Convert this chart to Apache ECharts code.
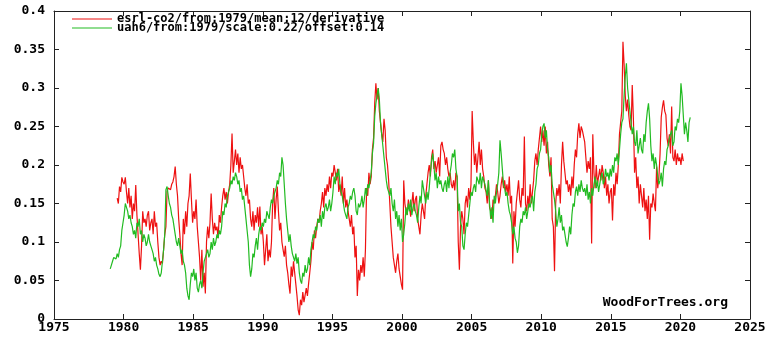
<!DOCTYPE html>
<html>
<head>
<meta charset="utf-8">
<script src="https://cdn.jsdelivr.net/npm/echarts@6/dist/echarts.min.js"></script>
<style>
  html, body { margin: 0; padding: 0; background: #fff; }
  #chart { width: 777px; height: 343px; }
</style>
</head>
<body>
<div id="chart"></div>
<script>
  // monthly values
  const co2Name = 'esrl-co2/from:1979/mean:12/derivative'
  const uahName = 'uah6/from:1979/scale:0.22/offset:0.14'

  const co2Start = 1979.54 // first month (Jul 1979)
  const co2Values = [
    .157, .150, .172, .165, .184, .178,
    .175, .184, .165, .150, .170, .145, .160, .130, .150, .140, .174, .135,
    .110, .085, .064, .095, .140, .125, .130, .120, .135, .140, .115, .125,
    .130, .110, .140, .120, .125, .100, .080, .070, .075, .072, .090, .110,
    .120, .166, .170, .172, .168, .175, .178, .185, .198, .175, .160, .130,
    .110, .085, .070, .130, .110, .140, .120, .150, .160, .189, .155, .125,
    .140, .130, .155, .120, .100, .080, .050, .090, .042, .060, .033, .100,
    .120, .105, .125, .163, .130, .110, .125, .115, .120, .105, .135, .125,
    .145, .160, .170, .155, .165, .150, .165, .175, .200, .241, .190, .205,
    .220, .200, .215, .190, .210, .195, .200, .185, .170, .160, .175, .150,
    .155, .130, .120, .140, .115, .135, .125, .145, .120, .146, .110, .120,
    .100, .070, .090, .110, .075, .090, .080, .100, .150, .170, .130, .155,
    .172, .140, .115, .125, .100, .090, .081, .095, .070, .060, .045, .033,
    .068, .055, .075, .060, .045, .030, .012, .005, .025, .018, .035, .022,
    .020, .040, .030, .046, .060, .075, .100, .090, .115, .105, .120, .130,
    .125, .140, .150, .165, .145, .170, .160, .175, .165, .185, .170, .190,
    .185, .200, .190, .180, .195, .165, .175, .160, .185, .150, .170, .145,
    .155, .140, .130, .120, .135, .110, .120, .080, .095, .030, .064, .050,
    .070, .060, .080, .055, .090, .170, .160, .190, .175, .185, .220, .235,
    .280, .306, .285, .300, .270, .255, .240, .230, .260, .245, .210, .200,
    .180, .150, .120, .100, .080, .070, .060, .075, .085, .065, .055, .045,
    .038, .180, .150, .140, .135, .155, .145, .133, .150, .165, .140, .155,
    .160, .130, .120, .110, .135, .150, .140, .130, .160, .175, .190, .200,
    .185, .210, .220, .195, .205, .190, .200, .210, .185, .225, .230, .220,
    .215, .200, .210, .195, .185, .190, .175, .170, .180, .167, .190, .185,
    .100, .064, .120, .140, .130, .110, .150, .160, .145, .170, .155, .175,
    .270, .230, .200, .215, .190, .210, .230, .200, .220, .195, .185, .170,
    .165, .150, .180, .145, .140, .130, .155, .150, .160, .175, .165, .150,
    .160, .175, .185, .170, .180, .165, .175, .160, .185, .150, .160, .072,
    .140, .120, .150, .165, .180, .155, .145, .170, .160, .237, .150, .140,
    .160, .145, .175, .150, .165, .180, .205, .215, .200, .220, .235, .250,
    .230, .245, .225, .250, .215, .230, .200, .185, .210, .130, .120, .062,
    .150, .170, .160, .175, .150, .200, .230, .205, .190, .175, .180, .165,
    .175, .160, .185, .170, .200, .220, .210, .240, .254, .235, .250, .245,
    .245, .230, .210, .190, .205, .195, .210, .098, .240, .190, .170, .200,
    .175, .185, .195, .180, .200, .190, .170, .185, .160, .175, .150, .165,
    .170, .128, .175, .160, .190, .175, .200, .240, .255, .270, .360, .330,
    .290, .270, .285, .265, .250, .245, .304, .260, .190, .210, .170, .185,
    .150, .175, .160, .145, .170, .140, .155, .130, .160, .103, .150, .145,
    .163, .150, .140, .198, .170, .185, .215, .262, .275, .284, .270, .265,
    .235, .225, .240, .215, .276, .210, .205, .220, .200, .215, .205, .210,
    .200, .215, .205
  ]

  const uahStart = 1979.04 // first month (Jan 1979)
  const uahValues = [
    .065, .070, .075, .080, .082, .078, .085, .080, .090, .095, .115, .125,
    .135, .150, .145, .140, .130, .135, .125, .120, .110, .115, .105, .125,
    .120, .130, .110, .115, .100, .110, .105, .095, .100, .110, .100, .095,
    .090, .085, .075, .080, .070, .065, .058, .055, .060, .075, .090, .110,
    .168, .172, .160, .150, .145, .135, .130, .120, .110, .100, .095, .105,
    .095, .085, .090, .075, .070, .060, .040, .030, .025, .045, .060, .055,
    .065, .050, .060, .040, .035, .045, .050, .040, .060, .075, .080, .085,
    .090, .080, .085, .100, .090, .105, .095, .100, .110, .105, .115, .110,
    .120, .140, .135, .150, .145, .160, .165, .170, .180, .175, .185, .180,
    .190, .185, .175, .180, .165, .170, .155, .160, .145, .130, .115, .100,
    .070, .055, .065, .085, .080, .095, .105, .090, .110, .120, .115, .125,
    .120, .130, .125, .140, .135, .130, .145, .155, .150, .160, .165, .170,
    .180, .175, .190, .185, .210, .200, .175, .150, .130, .115, .100, .110,
    .095, .085, .080, .075, .085, .072, .080, .060, .050, .046, .060, .055,
    .070, .060, .065, .080, .070, .090, .100, .110, .105, .120, .115, .130,
    .125, .135, .120, .140, .130, .145, .150, .140, .145, .155, .140, .150,
    .165, .185, .175, .190, .185, .195, .175, .165, .160, .150, .140, .135,
    .130, .145, .150, .160, .155, .165, .170, .160, .140, .135, .150, .145,
    .150, .160, .145, .155, .170, .160, .175, .170, .180, .190, .215, .228,
    .263, .280, .290, .300, .285, .255, .240, .225, .210, .195, .180, .170,
    .165, .160, .170, .150, .140, .155, .130, .140, .120, .135, .115, .130,
    .100, .110, .125, .145, .135, .150, .140, .155, .135, .145, .150, .140,
    .135, .125, .145, .160, .150, .180, .170, .160, .150, .165, .155, .170,
    .190, .205, .215, .200, .180, .190, .170, .185, .175, .180, .170, .165,
    .175, .180, .165, .185, .170, .190, .200, .215, .210, .220, .195, .185,
    .140, .150, .125, .120, .095, .090, .110, .125, .120, .135, .150, .165,
    .160, .170, .175, .165, .185, .180, .175, .190, .170, .185, .180, .175,
    .175, .160, .180, .150, .130, .145, .125, .160, .150, .165, .175, .190,
    .232, .215, .195, .175, .170, .160, .165, .150, .140, .135, .125, .110,
    .120, .105, .100, .086, .095, .120, .130, .125, .140, .135, .145, .130,
    .140, .150, .145, .155, .160, .140, .165, .175, .195, .200, .215, .220,
    .240, .250, .254, .235, .245, .220, .210, .190, .200, .175, .165, .155,
    .140, .120, .130, .145, .125, .135, .115, .120, .110, .100, .094, .105,
    .120, .110, .135, .150, .146, .165, .172, .160, .175, .165, .180, .170,
    .165, .170, .160, .175, .155, .165, .150, .170, .160, .175, .185, .170,
    .180, .165, .175, .185, .190, .175, .180, .195, .185, .190, .180, .195,
    .185, .200, .190, .210, .205, .215, .200, .220, .240, .255, .260, .290,
    .315, .332, .300, .285, .270, .255, .240, .250, .230, .225, .245, .215,
    .225, .235, .220, .215, .240, .230, .255, .270, .280, .260, .225, .205,
    .215, .195, .210, .200, .185, .175, .180, .190, .172, .195, .205, .200,
    .220, .225, .235, .240, .245, .225, .230, .250, .245, .260, .255, .270,
    .306, .290, .265, .240, .255, .245, .230, .255, .262
  ]

  const yearTicks = { min: 1975, max: 2025, step: 5 }
  const valueTicks = { min: 0, max: 0.4, step: 0.05 }

  const font = 'DejaVu Sans Mono'
  const fontSize = 13

  function monthly(start, values) {
    return values.map((v, i) => [start + i / 12, v])
  }

  function axisCommon(show) {
    return {
      axisLine: { show: true, onZero: false, lineStyle: { color: '#222', width: 1 } },
      axisTick: { show: true, inside: true, length: 5, lineStyle: { color: '#222' } },
      splitLine: { show: false },
      axisLabel: {
        show: show,
        color: '#000',
        fontFamily: font,
        fontWeight: 'bold',
        fontSize: fontSize
      }
    }
  }

  const xBottom = axisCommon(true)
  xBottom.axisLabel.margin = 2
  xBottom.axisLabel.formatter = (v) => String(v)
  const xTop = axisCommon(false)

  const yLeft = axisCommon(true)
  yLeft.axisLabel.margin = 9
  const yRight = axisCommon(false)

  const chart = echarts.init(document.getElementById('chart'))
  chart.setOption({
    animation: false,
    backgroundColor: '#fff',
    grid: { left: 54, right: 27, top: 11, bottom: 24 },
    legend: {
      orient: 'vertical',
      left: 72,
      top: 13,
      padding: 0,
      itemGap: -3,
      itemWidth: 40,
      itemHeight: 1,
      icon: 'rect',
      textStyle: {
        color: '#000',
        fontFamily: font,
        fontWeight: 'bold',
        fontSize: 12
      },
      data: [co2Name, uahName]
    },
    xAxis: [
      Object.assign({ type: 'value', position: 'bottom', min: yearTicks.min, max: yearTicks.max, interval: yearTicks.step }, xBottom),
      Object.assign({ type: 'value', position: 'top', min: yearTicks.min, max: yearTicks.max, interval: yearTicks.step }, xTop)
    ],
    yAxis: [
      Object.assign({ type: 'value', position: 'left', min: valueTicks.min, max: valueTicks.max, interval: valueTicks.step }, yLeft),
      Object.assign({ type: 'value', position: 'right', min: valueTicks.min, max: valueTicks.max, interval: valueTicks.step }, yRight)
    ],
    graphic: [
      {
        type: 'text',
        right: 49,
        top: 296,
        style: {
          text: 'WoodForTrees.org',
          fill: '#000',
          font: 'bold ' + fontSize + 'px "' + font + '"'
        }
      }
    ],
    series: [
      {
        name: co2Name,
        type: 'line',
        data: monthly(co2Start, co2Values),
        showSymbol: false,
        lineStyle: { color: '#ee1111', width: 1.2 },
        itemStyle: { color: '#ee1111' }
      },
      {
        name: uahName,
        type: 'line',
        data: monthly(uahStart, uahValues),
        showSymbol: false,
        lineStyle: { color: '#22bb22', width: 1.2 },
        itemStyle: { color: '#22bb22' }
      }
    ]
  })
</script>
</body>
</html>
